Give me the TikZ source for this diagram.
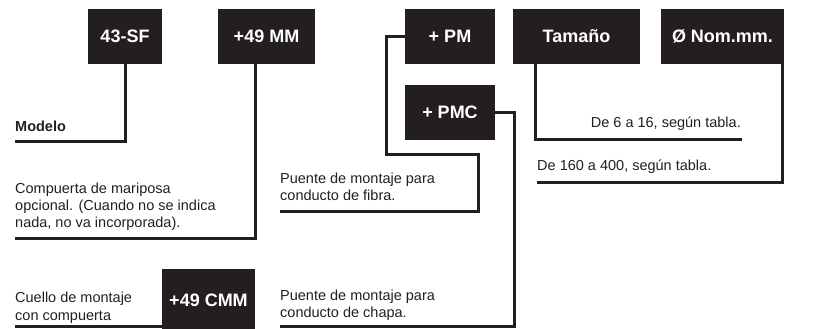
\documentclass[tikz,border=0pt]{standalone}
\usepackage{fontspec}
\setmainfont{Liberation Sans}
\definecolor{ink}{RGB}{35,31,32}
\begin{document}
\begin{tikzpicture}[x=1pt,y=1pt,
box/.style = {fill=ink, text=white, font=\fontsize{18}{20}\selectfont\bfseries, minimum height=55pt, inner sep=0pt},
lead/.style = {draw=ink, line width=3pt},
note/.style = {text=ink, font=\fontsize{14.5}{17}\selectfont, align=left, inner sep=0pt}]
\useasboundingbox (0,0) rectangle (816,329);
\node[box, minimum width=74pt] (sf) at (125,292.5) {43-SF};
\node[box, minimum width=97pt] (mm) at (266.5,292.5) {+49 MM};
\node[box, minimum width=90pt] (pm) at (450,292.5) {+ PM};
\node[box, minimum width=90pt] (pmc) at (450,216.5) {+ PMC};
\node[box, minimum width=127pt] (tam) at (576.5,292.5) {Tamaño};
\node[box, minimum width=123pt] (nom) at (722.5,292.5) {Ø Nom.mm.};
\node[box, minimum width=93pt, minimum height=62pt] (cmm) at (208.5,29) {+49 CMM};
\node[note, anchor=base west, font=\fontsize{14.5}{17}\selectfont\bfseries] (modelo) at (15,197) {Modelo};
\node[note, anchor=base west] (compuerta) at (15,101) {Compuerta de mariposa\\opcional. (Cuando no se indica\\nada, no va incorporada).};
\node[note, anchor=base west] (fibra) at (280,128) {Puente de montaje para\\conducto de fibra.};
\node[note, anchor=base west] (cuello) at (15,9) {Cuello de montaje\\con compuerta};
\node[note, anchor=base west] (chapa) at (280,11) {Puente de montaje para\\conducto de chapa.};
\node[note, anchor=base east] (seis) at (741,201) {De 6 a 16, según tabla.};
\node[note, anchor=base west] (cien) at (537,158) {De 160 a 400, según tabla.};
\coordinate (sfend) at (15,187);
\coordinate (mmend) at (15,90);
\coordinate (pmbend) at (386,174);
\coordinate (fibracorner) at (478,117);
\coordinate (fibraend) at (280,117);
\coordinate (chapacorner) at (514,2);
\coordinate (chapaend) at (280,2);
\coordinate (tamend) at (742,189);
\coordinate (nomend) at (537,146);
\coordinate (cuelloend) at (15,2);
\draw[lead] (sf.south) |- (sfend);
\draw[lead] ([xshift=-11.5pt]mm.south) |- (mmend);
\draw[lead] (pm.west) -| (pmbend) -| (fibracorner) -- (fibraend);
\draw[lead] (pmc.east) -| (chapacorner) -- (chapaend);
\draw[lead] ([xshift=23pt]tam.south west) |- (tamend);
\draw[lead] ([xshift=-1.5pt]nom.south east) |- (nomend);
\draw[lead] (cmm.west |- cuelloend) -- (cuelloend);
\end{tikzpicture}
\end{document}
